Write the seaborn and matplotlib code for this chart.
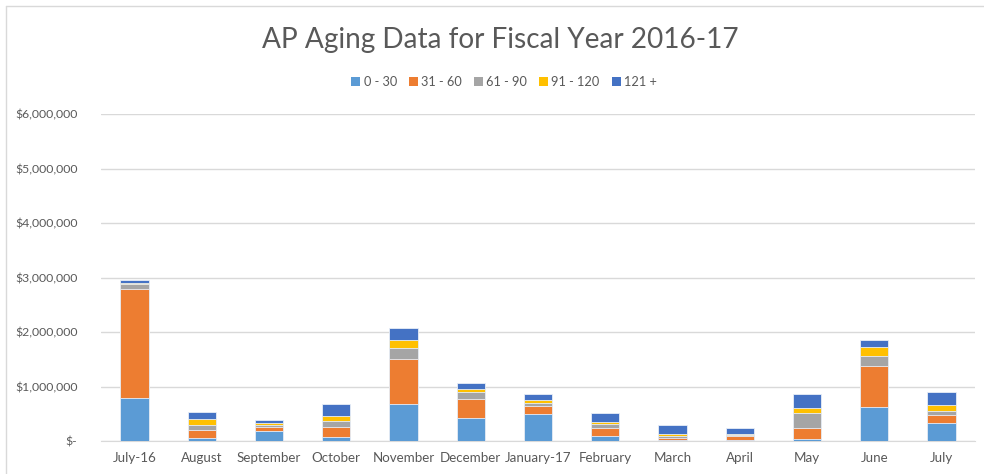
#!/usr/bin/python3

import numpy as np
import pandas as pd
import seaborn as sns
from matplotlib import pyplot as plt
from matplotlib.patches import Patch
from matplotlib.lines import Line2D
from matplotlib.ticker import FuncFormatter

months = ['July-16', 'August', 'September', 'October', 'November', 'December',
          'January-17', 'February', 'March', 'April', 'May', 'June', 'July']
buckets = ['0 - 30', '31 - 60', '61 - 90', '91 - 120', '121 +']

d0_30 = [790000, 60000, 180000, 80000, 685000, 420000, 500000, 90000, 10000, 15000, 30000, 625000, 335000]
d31_60 = [2000000, 150000, 80000, 180000, 815000, 345000, 150000, 140000, 50000, 75000, 215000, 755000, 140000]
d61_90 = [85000, 80000, 30000, 110000, 210000, 140000, 50000, 80000, 40000, 15000, 275000, 185000, 75000]
d91_120 = [20000, 110000, 40000, 90000, 150000, 50000, 50000, 40000, 30000, 25000, 85000, 165000, 110000]
d121 = [60000, 130000, 50000, 210000, 210000, 105000, 110000, 160000, 160000, 110000, 265000, 120000, 235000]

colors = ['#5B9BD5', '#ED7D31', '#A5A5A5', '#FFC000', '#4472C4']

sns.set_style('white')
plt.rcParams['font.family'] = ['Lato', 'DejaVu Sans']

df = pd.DataFrame({'month': months, '0 - 30': d0_30, '31 - 60': d31_60,
                   '61 - 90': d61_90, '91 - 120': d91_120, '121 +': d121})
cum = df[buckets].cumsum(axis=1)
cum['month'] = months

fig = plt.figure(figsize=(9.84, 4.74), dpi=100)
ax = fig.add_axes([101 / 984, 33 / 474, 874 / 984, 327 / 474])

# draw cumulative totals from the top bucket down so each layer covers the next
for b, c in reversed(list(zip(buckets, colors))):
    sns.barplot(data=cum, x='month', y=b, order=months, color=c, width=0.42,
                saturation=1, edgecolor='#e8eef7', linewidth=0.6, ax=ax, zorder=3)

ax.set_ylim(0, 6000000)
ax.set_xlim(-0.5, len(months) - 0.5)
ax.set_yticks(np.arange(0, 6000001, 1000000))
ax.yaxis.set_major_formatter(FuncFormatter(
    lambda v, p: '$-' if v == 0 else '${:,.0f}'.format(v)))
ax.grid(axis='y', color='#d9d9d9', linewidth=1, zorder=0)
ax.set_axisbelow(True)
for s in ['top', 'right', 'left']:
    ax.spines[s].set_visible(False)
ax.spines['bottom'].set_color('#d9d9d9')
ax.tick_params(axis='both', length=0, colors='#595959')
ax.tick_params(axis='y', pad=17, labelsize=8.8)
ax.tick_params(axis='x', pad=8, labelsize=9.6)
ax.set_xlabel('')
ax.set_ylabel('')

fig.text(500 / 984, 1 - 40 / 474, 'AP Aging Data for Fiscal Year 2016-17', ha='center',
         va='center', fontsize=20.2, color='#595959')

handles = [Patch(facecolor=c, edgecolor='none', label=b) for b, c in zip(buckets, colors)]
fig.legend(handles=handles, loc='center', bbox_to_anchor=(504 / 984, 1 - 82 / 474), ncol=5,
           frameon=False, fontsize=9.2, labelcolor='#595959', handlelength=0.7,
           handleheight=0.7, handletextpad=0.25, columnspacing=0.95)

fig.add_artist(Line2D([6 / 984, 6 / 984], [0, 1 - 6 / 474], transform=fig.transFigure,
                      color='#d9d9d9', linewidth=1))
fig.add_artist(Line2D([6 / 984, 1], [1 - 6 / 474, 1 - 6 / 474], transform=fig.transFigure,
                      color='#d9d9d9', linewidth=1))

fig.savefig('out.png', dpi=100)
plt.close(fig)
